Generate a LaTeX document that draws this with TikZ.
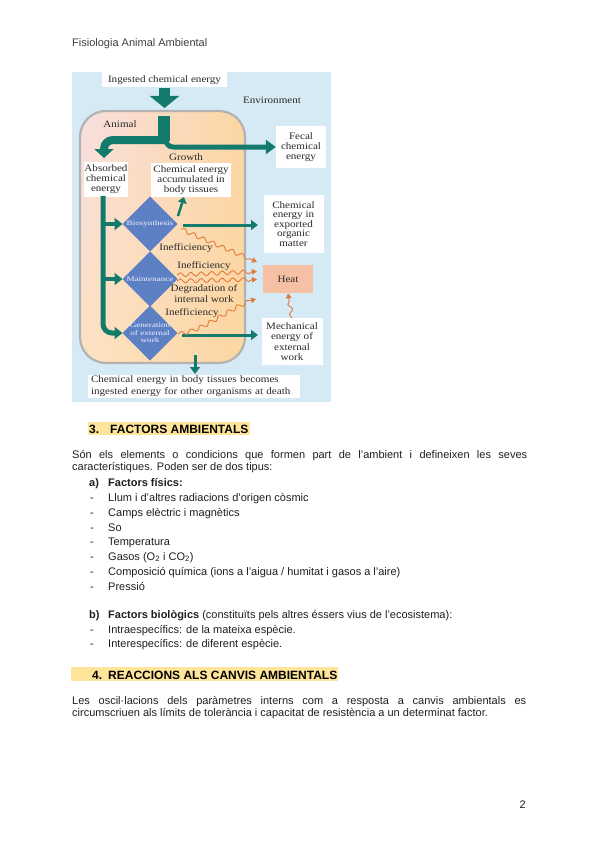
\documentclass[tikz,border=0pt]{standalone}
\usepackage{fontspec}
\setmainfont{Liberation Sans}
\newfontfamily\figf{Liberation Serif}[FakeStretch=1.13]
\newfontfamily\diaf{Liberation Serif}[FakeStretch=1.3]
\usetikzlibrary{arrows.meta,decorations.pathmorphing,shapes.geometric,shadings}
\definecolor{envblue}{HTML}{D6EAF6}
\definecolor{arrgreen}{HTML}{147B6C}
\definecolor{diablue}{HTML}{5D80C4}
\definecolor{wavec}{HTML}{E07B39}
\definecolor{heatc}{HTML}{F6C0A5}
\definecolor{hilite}{HTML}{FFE599}
\definecolor{pinkc}{HTML}{F8DFE0}
\definecolor{peachc}{HTML}{FCD6A2}
\definecolor{peachl}{HTML}{FDE2C2}
\definecolor{figtxt}{HTML}{2A2A2A}
\begin{document}
\begin{tikzpicture}[x=1pt,y=-1pt,
  figtext/.style={font=\figf\fontsize{9.8}{10.3}\selectfont, text=figtxt, align=center, inner sep=0pt},
  wbox/.style={figtext, fill=white},
  dia/.style={diamond, fill=diablue, minimum width=55pt, minimum height=55pt, inner sep=0pt, outer sep=0pt},
  diatext/.style={font=\diaf\fontsize{7}{7.6}\selectfont, text=blue!6!white, align=center, inner sep=0pt},
  garrow/.style={draw=arrgreen, line width=3pt, -{Triangle[width=10pt,length=7pt]}},
  wavy/.style={draw=wavec, line width=0.9pt, decorate, decoration={snake, amplitude=2pt, segment length=10.5pt, post length=5pt}, -{Triangle[width=5.5pt,length=5pt]}},
  body/.style={font=\fontsize{11}{13}\selectfont, anchor=base west, inner sep=0pt, text=black!88},
  bodyb/.style={body, font=\bfseries\fontsize{11}{13}\selectfont},
  headtext/.style={anchor=base west, inner sep=0pt, font=\bfseries\fontsize{12}{14}\selectfont, text=black},
  hlbox/.style={fill=hilite, draw=none}
]
\useasboundingbox (0,0) rectangle (600,848);
\fill[white] (0,0) rectangle (600,848);

% ---------- page header ----------
\node[body, text=black!75] (header) at (72,47) {Fisiologia Animal Ambiental};

% ---------- figure ----------
\fill[envblue] (72,72) rectangle (331,402);
\draw[draw=black!30, line width=2.2pt, rounded corners=26pt,
  upper left=pinkc, upper right=peachc, lower left=peachl, lower right=peachc]
  (80,111) rectangle (245,363);
\node[figtext] (envlabel) at (272,100) {Environment};
\node[figtext] (animallabel) at (120,124) {Animal};

\node[wbox, minimum width=125pt, minimum height=15pt] (ingested) at (164.5,80) {Ingested chemical energy};
\node[wbox, minimum width=42pt, minimum height=35pt] (absorbed) at (106,179) {Absorbed\\chemical\\energy};
\node[figtext] (growthlabel) at (186,157.5) {Growth};
\node[wbox, minimum width=80pt, minimum height=34pt] (growth) at (191,180) {Chemical energy\\accumulated in\\body tissues};
\node[wbox, minimum width=50pt, minimum height=42pt] (fecal) at (301,147) {Fecal\\chemical\\energy};
\node[wbox, minimum width=60pt, minimum height=58pt, font=\figf\fontsize{9.8}{9.6}\selectfont] (exported) at (293.5,224) {Chemical\\energy in\\exported\\organic\\matter};
\node[figtext, fill=heatc, minimum width=50pt, minimum height=28pt] (heat) at (288,279) {Heat};
\node[wbox, minimum width=61pt, minimum height=47pt] (mech) at (292,341.5) {Mechanical\\energy of\\external\\work};
\node[wbox, minimum width=212pt, minimum height=23pt, text width=206pt, align=left, font=\figf\fontsize{9.8}{11.8}\selectfont] (death) at (194,386.5) {Chemical energy in body tissues becomes\\ingested energy for other organisms at death};

% diamonds
\node[dia] (bio) at (150,224) {};
\node[dia] (maint) at (150,279) {};
\node[dia] (gen) at (150,333) {};
\node[diatext] (biot) at (bio.center) {Biosynthesis};
\node[diatext] (maintt) at (maint.center) {Maintenance};
\node[diatext] (gent) at (gen.center) {Generation\\of external\\work};

% green arrows: ingestion and split
\coordinate (ingTip) at (164.5,108);
\coordinate (trunkTop) at (163.5,116);
\coordinate (trunkBot) at (163.5,141);
\coordinate (absTip) at (104,158);
\draw[draw=arrgreen, line width=11pt, -{Triangle[width=29pt,length=12pt]}] (ingested.south) -- (ingTip);
\draw[draw=arrgreen, line width=12pt] (trunkTop) -- (trunkBot);
\draw[draw=arrgreen, line width=8pt, rounded corners=9pt, -{Triangle[width=19pt,length=9pt]}] (166,140) -- (104,140) -- (absTip);
\draw[draw=arrgreen, line width=5pt, rounded corners=7pt, -{Triangle[width=14pt,length=10pt]}] (166,132) -- (166,147) -- (fecal.west);

% absorbed distribution
\coordinate (absBot) at (103,196);
\draw[draw=arrgreen, line width=5pt, rounded corners=9pt, -{Triangle[width=12pt,length=8pt]}] (absBot) -- (103,333) -- (gen.west);
\draw[draw=arrgreen, line width=4pt, -{Triangle[width=12pt,length=8pt]}] (103,224) -- (bio.west);
\draw[draw=arrgreen, line width=4pt, -{Triangle[width=12pt,length=8pt]}] (103,279) -- (maint.west);

% outputs
\coordinate (bioOut) at (178,216);
\coordinate (growthIn) at (184,197);
\draw[draw=arrgreen, line width=2.5pt, -{Triangle[width=9pt,length=6pt]}] (bioOut) -- (growthIn);
\coordinate (bioR) at (183,225);
\coordinate (expTip) at (258,225);
\draw[garrow] (bioR) -- (expTip);
\coordinate (genR) at (182,335);
\coordinate (mechTip) at (258,335);
\draw[garrow] (genR) -- (mechTip);
\coordinate (downS) at (195,355);
\coordinate (downT) at (195,374);
\draw[garrow] (downS) -- (downT);

% heat losses
\draw[wavy] (181,229) .. controls (205,240) and (230,250) .. (257,262);
\draw[wavy] (177,275) -- (257,271.5);
\draw[wavy] (177,281) -- (257,279.5);
\draw[wavy] (178,334) .. controls (205,330) and (228,306) .. (256,299);
\draw[wavy] (mech.north) -- (heat.south);

\node[figtext] (ineff1) at (186,248) {Inefficiency};
\node[figtext] (ineff2) at (204,266) {Inefficiency};
\node[figtext] (degr) at (204,293.5) {Degradation of\\internal work};
\node[figtext] (ineff3) at (192,313) {Inefficiency};

% ---------- section 3 ----------
\fill[hlbox] (88,421.7) rectangle (250,435.3);
\node[headtext] (h3num) at (89,433.3) {3.};
\node[headtext] (h3) at (110,433.3) {FACTORS AMBIENTALS};

\node[body] (p1a) at (72,458.3) {\makebox[455pt][s]{Són els elements o condicions que formen part de l'ambient i defineixen les seves}};
\node[body] (p1b) at (72,470.3) {característiques. Poden ser de dos tipus:};

\node[bodyb] (amark) at (89,486) {a)};
\node[bodyb] (atitle) at (108,486) {Factors físics:};

\foreach \yy/\tt [count=\i] in {
  501.5/{Llum i d'altres radiacions d'origen còsmic},
  516.5/{Camps elèctric i magnètics},
  531/{So},
  545.5/{Temperatura},
  560/{Gasos (O\textsubscript{2} i CO\textsubscript{2})},
  575/{Composició química (ions a l'aigua / humitat i gasos a l'aire)},
  590/{Pressió}} {
  \node[body] (ad\i) at (90,\yy) {-};
  \node[body] (at\i) at (108,\yy) {\tt};
}

\node[bodyb] (bmark) at (89,618.5) {b)};
\node[body] (btitle) at (108,618.5) {\textbf{Factors biològics} (constituïts pels altres éssers vius de l'ecosistema):};
\node[body] (bd1) at (90,633) {-};
\node[body] (bt1) at (108,633) {Intraespecífics: de la mateixa espècie.};
\node[body] (bd2) at (90,647.5) {-};
\node[body] (bt2) at (108,647.5) {Interespecífics: de diferent espècie.};

% ---------- section 4 ----------
\fill[hlbox] (71,667.3) rectangle (338,681);
\node[headtext] (h4num) at (92,679) {4.};
\node[headtext] (h4) at (108,679) {REACCIONS ALS CANVIS AMBIENTALS};

\node[body] (p2a) at (72,704) {\makebox[454pt][s]{Les oscil·lacions dels paràmetres interns com a resposta a canvis ambientals es}};
\node[body] (p2b) at (72,716.5) {circumscriuen als límits de tolerància i capacitat de resistència a un determinat factor.};

% page number
\node[body] (pagenum) at (519.5,808.3) {2};
\end{tikzpicture}
\end{document}
